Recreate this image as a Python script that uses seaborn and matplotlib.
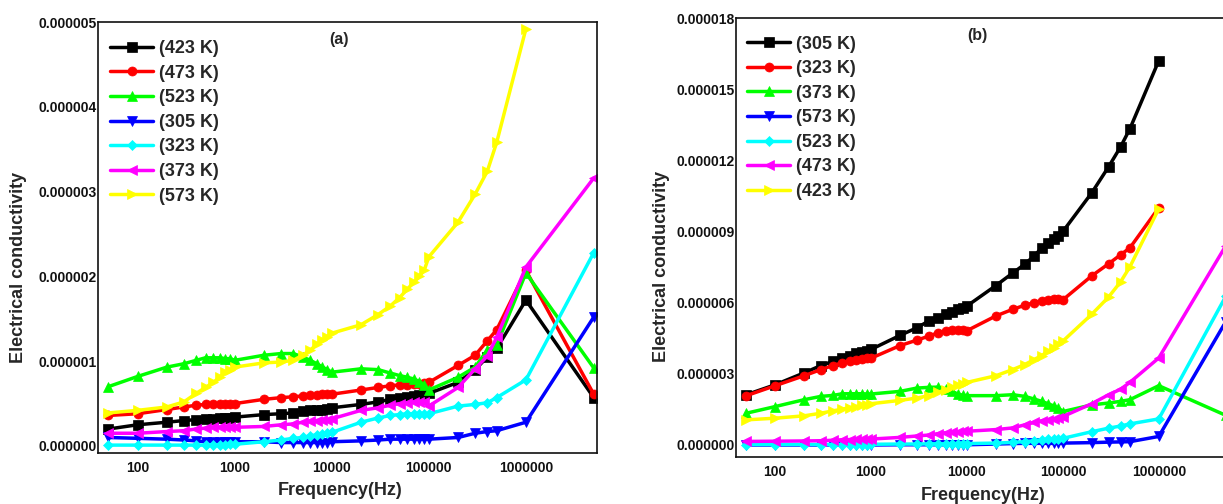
import numpy as np
import pandas as pd
import matplotlib
matplotlib.use("Agg")
import matplotlib.pyplot as plt
import seaborn as sns
from matplotlib.ticker import FixedLocator, FuncFormatter, NullLocator

sns.set_style("white")
plt.rcParams['font.family'] = ['Liberation Sans', 'DejaVu Sans']
plt.rcParams['font.weight'] = 'bold'

# values in units of 1e-6
SCALE = 1e-6

freq = [50, 100, 200, 300, 400, 500, 600, 700, 800, 900,
        1e3, 2e3, 3e3, 4e3, 5e3, 6e3, 7e3, 8e3, 9e3,
        1e4, 2e4, 3e4, 4e4, 5e4, 6e4, 7e4, 8e4, 9e4,
        1e5, 2e5, 3e5, 4e5, 5e5, 1e6, 5e6]

# ---------- panel (a) ----------
a_423 = [0.20, 0.25, 0.28, 0.30, 0.31, 0.32, 0.32, 0.33, 0.33, 0.33, 0.34, 0.37, 0.38, 0.39, 0.41, 0.42, 0.43, 0.43, 0.44,
         0.45, 0.49, 0.52, 0.55, 0.57, 0.58, 0.59, 0.60, 0.61, 0.62, 0.75, 0.90, 1.05, 1.15, 1.72, 0.57]
a_473 = [0.36, 0.38, 0.43, 0.46, 0.48, 0.49, 0.49, 0.50, 0.50, 0.50, 0.50, 0.55, 0.57, 0.58, 0.59, 0.60, 0.60, 0.61, 0.61,
         0.61, 0.66, 0.69, 0.71, 0.72, 0.72, 0.73, 0.73, 0.74, 0.75, 0.95, 1.07, 1.24, 1.37, 2.07, 0.61]
a_523 = [0.70, 0.82, 0.93, 0.97, 1.01, 1.04, 1.04, 1.04, 1.03, 1.03, 1.01, 1.07, 1.09, 1.09, 1.05, 1.01, 0.97, 0.93, 0.90,
         0.87, 0.91, 0.90, 0.86, 0.83, 0.81, 0.79, 0.76, 0.72, 0.66, 0.81, 0.93, 1.13, 1.19, 2.04, 0.92]
a_305 = [0.10, 0.09, 0.08, 0.07, 0.06, 0.05, 0.05, 0.05, 0.05, 0.05, 0.05, 0.05, 0.04, 0.04, 0.04, 0.04, 0.04, 0.04, 0.04,
         0.05, 0.06, 0.07, 0.08, 0.08, 0.08, 0.08, 0.08, 0.08, 0.08, 0.10, 0.15, 0.17, 0.18, 0.28, 1.52]
a_323 = [0.01, 0.01, 0.01, 0.01, 0.01, 0.01, 0.01, 0.01, 0.01, 0.02, 0.02, 0.05, 0.07, 0.09, 0.10, 0.12, 0.13, 0.14, 0.15,
         0.16, 0.28, 0.33, 0.36, 0.37, 0.38, 0.38, 0.38, 0.38, 0.38, 0.47, 0.49, 0.51, 0.57, 0.78, 2.28]
a_373 = [0.15, 0.15, 0.17, 0.18, 0.20, 0.21, 0.22, 0.22, 0.22, 0.22, 0.22, 0.23, 0.25, 0.26, 0.28, 0.29, 0.30, 0.31, 0.31,
         0.32, 0.42, 0.45, 0.48, 0.50, 0.51, 0.52, 0.52, 0.52, 0.47, 0.69, 0.91, 1.06, 1.28, 2.11, 3.16]
a_573 = [0.39, 0.42, 0.46, 0.52, 0.62, 0.69, 0.75, 0.81, 0.87, 0.90, 0.93, 0.98, 0.99, 1.01, 1.07, 1.13, 1.20, 1.25, 1.29,
         1.33, 1.43, 1.55, 1.65, 1.75, 1.85, 1.93, 2.00, 2.08, 2.23, 2.64, 2.97, 3.24, 3.58, 4.92]

# ---------- panel (b) ----------
b_305 = [2.12, 2.54, 3.04, 3.35, 3.53, 3.67, 3.77, 3.86, 3.91, 3.95, 4.03, 4.62, 4.94, 5.23, 5.37, 5.51, 5.61, 5.72, 5.79,
         5.86, 6.72, 7.25, 7.62, 7.97, 8.30, 8.52, 8.69, 8.80, 9.00, 10.63, 11.73, 12.57, 13.33, 16.20]
b_323 = [2.08, 2.50, 2.92, 3.18, 3.35, 3.46, 3.56, 3.60, 3.63, 3.65, 3.66, 4.19, 4.42, 4.59, 4.73, 4.80, 4.84, 4.86, 4.86,
         4.82, 5.44, 5.72, 5.89, 6.00, 6.08, 6.12, 6.14, 6.14, 6.12, 7.13, 7.64, 8.02, 8.31, 10.00]
b_373 = [1.34, 1.62, 1.91, 2.05, 2.09, 2.16, 2.16, 2.16, 2.16, 2.15, 2.15, 2.26, 2.40, 2.43, 2.44, 2.36, 2.26, 2.15, 2.10,
         2.08, 2.08, 2.12, 2.05, 1.94, 1.84, 1.74, 1.65, 1.55, 1.41, 1.69, 1.77, 1.84, 1.91, 2.50, 1.25]
b_573 = [0.00, 0.00, 0.00, 0.00, 0.00, 0.00, 0.00, 0.00, 0.00, 0.00, 0.00, 0.01, 0.01, 0.01, 0.01, 0.01, 0.01, 0.01, 0.01,
         0.01, 0.04, 0.06, 0.07, 0.07, 0.07, 0.07, 0.07, 0.07, 0.08, 0.10, 0.12, 0.13, 0.14, 0.36, 5.20]
b_523 = [0.02, 0.02, 0.02, 0.02, 0.02, 0.02, 0.02, 0.02, 0.02, 0.02, 0.03, 0.04, 0.04, 0.05, 0.05, 0.05, 0.05, 0.05, 0.05,
         0.06, 0.08, 0.11, 0.14, 0.18, 0.22, 0.24, 0.25, 0.26, 0.28, 0.56, 0.71, 0.80, 0.89, 1.10, 6.27]
b_473 = [0.15, 0.16, 0.17, 0.18, 0.20, 0.22, 0.23, 0.24, 0.24, 0.25, 0.25, 0.32, 0.38, 0.42, 0.48, 0.52, 0.54, 0.56, 0.57,
         0.58, 0.65, 0.72, 0.85, 0.95, 1.02, 1.07, 1.10, 1.12, 1.20, 1.74, 2.12, 2.35, 2.64, 3.67, 8.40]
b_423 = [1.06, 1.13, 1.23, 1.34, 1.44, 1.51, 1.58, 1.62, 1.67, 1.69, 1.74, 1.88, 1.98, 2.08, 2.22, 2.33, 2.43, 2.51, 2.58,
         2.64, 2.92, 3.18, 3.39, 3.60, 3.77, 3.95, 4.10, 4.24, 4.38, 5.51, 6.24, 6.88, 7.51, 9.96]

series_a = [("(423 K)", a_423, "#000000", "s"),
            ("(473 K)", a_473, "#ff0000", "o"),
            ("(523 K)", a_523, "#00ff00", "^"),
            ("(305 K)", a_305, "#0000ff", "v"),
            ("(323 K)", a_323, "#00ffff", "D"),
            ("(373 K)", a_373, "#ff00ff", "<"),
            ("(573 K)", a_573, "#ffff00", ">")]
series_b = [("(305 K)", b_305, "#000000", "s"),
            ("(323 K)", b_323, "#ff0000", "o"),
            ("(373 K)", b_373, "#00ff00", "^"),
            ("(573 K)", b_573, "#0000ff", "v"),
            ("(523 K)", b_523, "#00ffff", "D"),
            ("(473 K)", b_473, "#ff00ff", "<"),
            ("(423 K)", b_423, "#ffff00", ">")]

x_ticks = [100, 1000, 10000, 100000, 1000000]
x_labels = ["100", "1000", "10000", "100000", "1000000"]
ya_ticks = [0, 1e-6, 2e-6, 3e-6, 4e-6, 5e-6]
yb_ticks = [0, 3e-6, 6e-6, 9e-6, 12e-6, 15e-6, 18e-6]

W, H = 1223, 504
fig = plt.figure(figsize=(W / 100, H / 100), dpi=100)
ax_a = fig.add_axes([98 / W, (H - 453) / H, 499 / W, 431 / H])
ax_b = fig.add_axes([736 / W, (H - 457) / H, 493 / W, 439 / H])


def draw(ax, series):
    ax.set_xscale("log")
    for lab, vals, col, mk in series:
        df = pd.DataFrame({"f": freq[:len(vals)], "s": np.array(vals) * SCALE})
        ms = 5.5 if mk == "D" else 6.5
        sns.lineplot(data=df, x="f", y="s", ax=ax, color=col, marker=mk,
                     markersize=ms, markeredgecolor=col, markeredgewidth=0.5,
                     linewidth=2.5, label=lab, estimator=None, sort=False)


draw(ax_a, series_a)
draw(ax_b, series_b)

for ax, yt, ylim, leg_xy, tag, tag_xy, xl_xy, yl_xy in [
        (ax_a, ya_ticks, (-0.083e-6, 5e-6), (0.024, 0.958), "(a)", (0.483, 0.96), (0.485, -0.068), (-0.142, 0.43)),
        (ax_b, yb_ticks, (-0.506e-6, 18e-6), (0.022, 0.96), "(b)", (0.489, 0.961), (0.501, -0.069), (-0.134, 0.433))]:
    ax.set_xlim(39, 5.4e6)
    ax.set_ylim(*ylim)
    ax.xaxis.set_major_locator(FixedLocator(x_ticks))
    ax.set_xticklabels(x_labels)
    ax.xaxis.set_minor_locator(NullLocator())
    ax.yaxis.set_major_locator(FixedLocator(yt))
    ax.yaxis.set_major_formatter(FuncFormatter(lambda v, p: f"{v:.6f}"))
    ax.tick_params(length=0, labelsize=10, colors="#111111")
    ax.tick_params(axis="x", pad=6)
    ax.tick_params(axis="y", pad=1)
    for sp in ax.spines.values():
        sp.set_visible(True)
        sp.set_color("#111111")
        sp.set_linewidth(1.2)
    ax.set_xlabel("Frequency(Hz)", fontsize=13, fontweight="bold")
    ax.set_ylabel("Electrical conductivity", fontsize=13, fontweight="bold")
    ax.xaxis.set_label_coords(*xl_xy)
    ax.yaxis.set_label_coords(*yl_xy)
    ax.text(tag_xy[0], tag_xy[1], tag, transform=ax.transAxes, ha="center", va="center",
            fontsize=11.5, fontweight="bold")
    ax.legend(loc="upper left", bbox_to_anchor=leg_xy, frameon=False,
              prop=dict(weight="bold", size=13), handlelength=2.4, handletextpad=0.3,
              labelspacing=0.42, borderpad=0, borderaxespad=0)

fig.savefig("out.png", dpi=100)
